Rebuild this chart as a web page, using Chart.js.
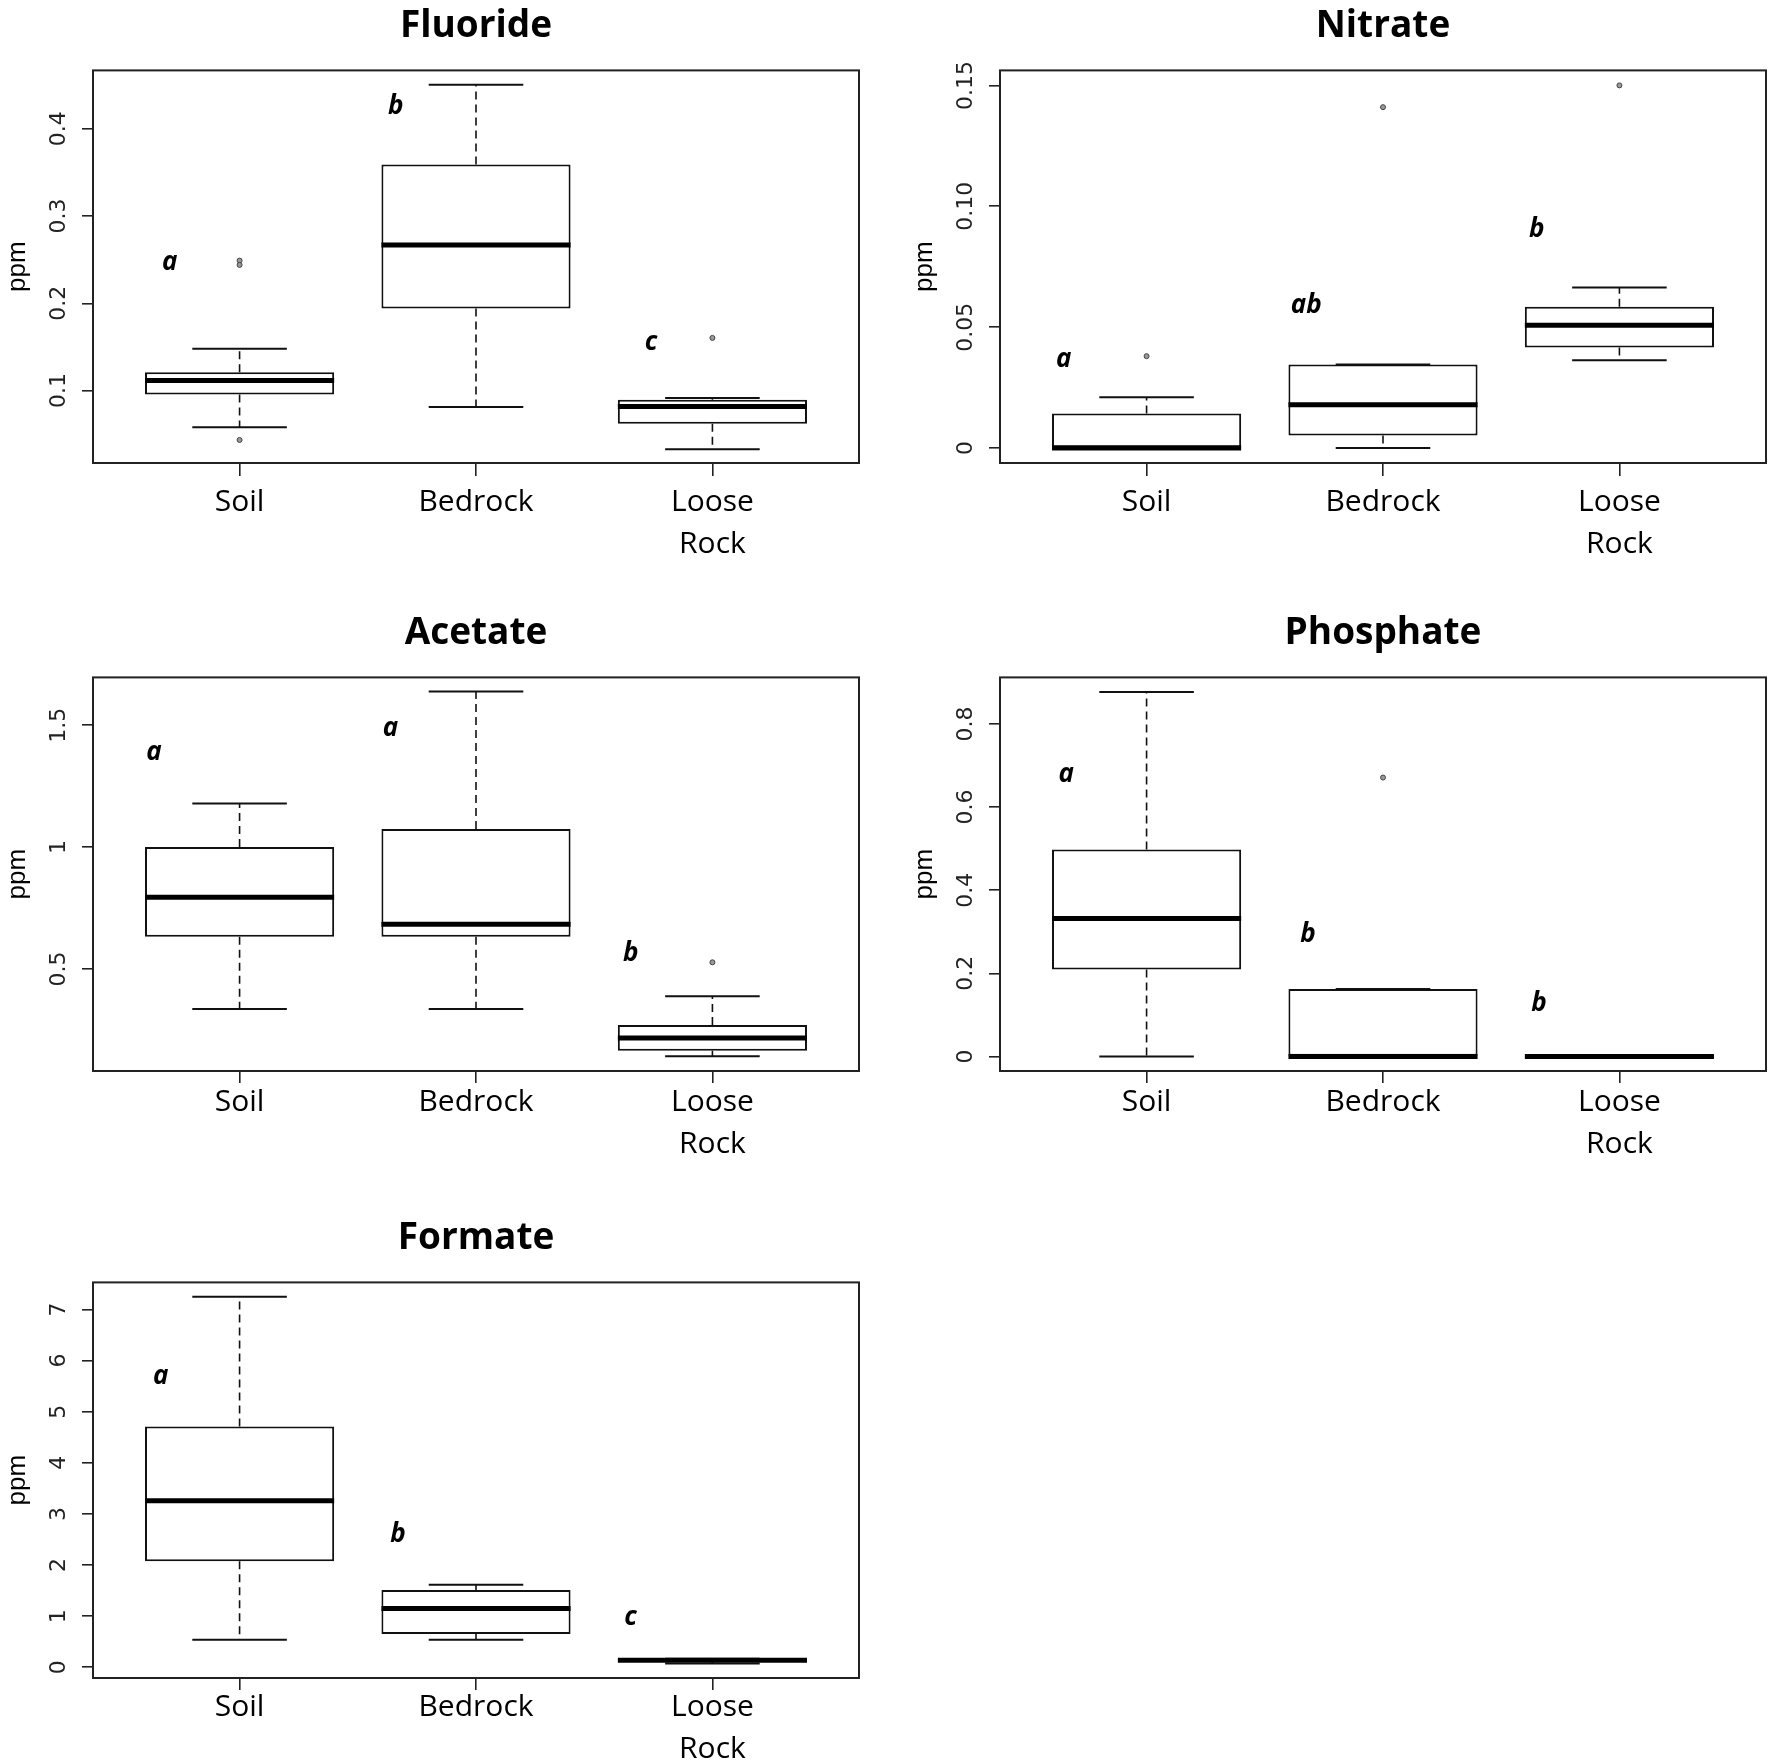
<!DOCTYPE html>
<html>
<head>
<meta charset="utf-8">
<title>Ion concentrations by substrate</title>
<script src="https://cdn.jsdelivr.net/npm/chart.js@4.4.1/dist/chart.umd.min.js"></script>
<style>
  html, body { margin: 0; padding: 0; background: #fff; }
  body { width: 1775px; height: 1763px; position: relative; overflow: hidden; }
  canvas { position: absolute; }
</style>
</head>
<body>
<canvas id="fluorideChart"></canvas>
<canvas id="nitrateChart"></canvas>
<canvas id="acetateChart"></canvas>
<canvas id="phosphateChart"></canvas>
<canvas id="formateChart"></canvas>
<script>
// --- Data ---
const categories = ['Soil', 'Bedrock', 'Loose Rock'];
const categoryLabels = ['Soil', 'Bedrock', ['Loose', 'Rock']];
const categoryPos = [1, 2, 3];

// each box: [lower whisker, Q1, median, Q3, upper whisker]
const fluorideBoxes = [[0.058, 0.0955, 0.1115, 0.121, 0.148], [0.0813, 0.194, 0.267, 0.359, 0.4506], [0.0328, 0.0621, 0.0817, 0.0894, 0.0915]];
const fluorideOutliers = [[1, 0.249], [1, 0.244], [1, 0.0434], [3, 0.1604]];
const fluorideLetters = ['a', 'b', 'c'];
const fluorideLetterPos = [[0.705, 0.247], [1.66, 0.425], [2.74, 0.155]];
const fluorideTicks = [0.1, 0.2, 0.3, 0.4];
const fluorideTickLabels = ['0.1', '0.2', '0.3', '0.4'];
const fluorideRange = [0.017, 0.467];

const nitrateBoxes = [[0, 0, 0, 0.0143, 0.021], [0, 0.0052, 0.0179, 0.0345, 0.0345], [0.0363, 0.0416, 0.0508, 0.0584, 0.0664]];
const nitrateOutliers = [[1, 0.038], [2, 0.141], [3, 0.150]];
const nitrateLetters = ['a', 'ab', 'b'];
const nitrateLetterPos = [[0.65, 0.0365], [1.675, 0.0588], [2.65, 0.0904]];
const nitrateTicks = [0, 0.05, 0.10, 0.15];
const nitrateTickLabels = ['0', '0.05', '0.10', '0.15'];
const nitrateRange = [-0.0062, 0.1562];

const acetateBoxes = [[0.335, 0.632, 0.794, 1.0, 1.179], [0.335, 0.632, 0.683, 1.074, 1.638], [0.142, 0.164, 0.216, 0.270, 0.388]];
const acetateOutliers = [[3, 0.527]];
const acetateLetters = ['a', 'a', 'b'];
const acetateLetterPos = [[0.638, 1.389], [1.638, 1.487], [2.654, 0.561]];
const acetateTicks = [0.5, 1, 1.5];
const acetateTickLabels = ['0.5', '1', '1.5'];
const acetateRange = [0.081, 1.696];

const phosphateBoxes = [[0, 0.209, 0.332, 0.498, 0.877], [0, 0, 0, 0.162, 0.162], [0, 0, 0, 0, 0]];
const phosphateOutliers = [[2, 0.671]];
const phosphateLetters = ['a', 'b', 'b'];
const phosphateLetterPos = [[0.66, 0.678], [1.683, 0.292], [2.66, 0.127]];
const phosphateTicks = [0, 0.2, 0.4, 0.6, 0.8];
const phosphateTickLabels = ['0', '0.2', '0.4', '0.6', '0.8'];
const phosphateRange = [-0.035, 0.912];

const formateBoxes = [[0.536, 2.075, 3.26, 4.71, 7.25], [0.536, 0.65, 1.15, 1.51, 1.616], [0.075, 0.11, 0.135, 0.155, 0.165]];
const formateOutliers = [];
const formateLetters = ['a', 'b', 'c'];
const formateLetterPos = [[0.666, 5.68], [1.67, 2.59], [2.654, 0.967]];
const formateTicks = [0, 1, 2, 3, 4, 5, 6, 7];
const formateTickLabels = ['0', '1', '2', '3', '4', '5', '6', '7'];
const formateRange = [-0.21, 7.53];

// --- Page layout (pixels) ---
const AXIS_W = 93, XAXIS_H = 100, TITLE_H = 70, PLOT_W = 766;

const panels = [
  { id: 'fluorideChart', title: 'Fluoride', left: 0, top: 0, plotH: 393, tickLen: 13, labelPad: 6,
    boxes: fluorideBoxes, outliers: fluorideOutliers, letters: fluorideLetters, letterPos: fluorideLetterPos,
    ticks: fluorideTicks, tickLabels: fluorideTickLabels, range: fluorideRange },
  { id: 'nitrateChart', title: 'Nitrate', left: 907, top: 0, plotH: 393, tickLen: 13, labelPad: 6,
    boxes: nitrateBoxes, outliers: nitrateOutliers, letters: nitrateLetters, letterPos: nitrateLetterPos,
    ticks: nitrateTicks, tickLabels: nitrateTickLabels, range: nitrateRange },
  { id: 'acetateChart', title: 'Acetate', left: 0, top: 607, plotH: 394, tickLen: 12, labelPad: -1,
    boxes: acetateBoxes, outliers: acetateOutliers, letters: acetateLetters, letterPos: acetateLetterPos,
    ticks: acetateTicks, tickLabels: acetateTickLabels, range: acetateRange },
  { id: 'phosphateChart', title: 'Phosphate', left: 907, top: 607, plotH: 394, tickLen: 12, labelPad: -1,
    boxes: phosphateBoxes, outliers: phosphateOutliers, letters: phosphateLetters, letterPos: phosphateLetterPos,
    ticks: phosphateTicks, tickLabels: phosphateTickLabels, range: phosphateRange },
  { id: 'formateChart', title: 'Formate', left: 0, top: 1212, plotH: 396, tickLen: 12, labelPad: -3,
    boxes: formateBoxes, outliers: formateOutliers, letters: formateLetters, letterPos: formateLetterPos,
    ticks: formateTicks, tickLabels: formateTickLabels, range: formateRange }
];

// --- R-style boxplot pieces: whiskers, caps, medians, frame, y labels, letters ---
const boxExtras = {
  id: 'boxExtras',
  afterDatasetsDraw(chart, args, opts) {
    const p = opts.panel;
    const { ctx, chartArea } = chart;
    const x = chart.scales.x, y = chart.scales.y;
    ctx.save();
    ctx.strokeStyle = '#111';

    p.boxes.forEach((b, i) => {
      const c = categoryPos[i];
      const cx = x.getPixelForValue(c);
      const capL = x.getPixelForValue(c - 0.2), capR = x.getPixelForValue(c + 0.2);
      const boxL = x.getPixelForValue(c - 0.4), boxR = x.getPixelForValue(c + 0.4);

      // dashed whiskers
      ctx.lineWidth = 1.6;
      ctx.setLineDash([8, 5]);
      ctx.beginPath();
      ctx.moveTo(cx, y.getPixelForValue(b[3])); ctx.lineTo(cx, y.getPixelForValue(b[4]));
      ctx.moveTo(cx, y.getPixelForValue(b[1])); ctx.lineTo(cx, y.getPixelForValue(b[0]));
      ctx.stroke();

      // staples
      ctx.setLineDash([]);
      ctx.lineWidth = 2;
      ctx.beginPath();
      ctx.moveTo(capL, y.getPixelForValue(b[4])); ctx.lineTo(capR, y.getPixelForValue(b[4]));
      ctx.moveTo(capL, y.getPixelForValue(b[0])); ctx.lineTo(capR, y.getPixelForValue(b[0]));
      ctx.stroke();

      // median
      ctx.lineWidth = 5;
      ctx.strokeStyle = '#000';
      ctx.beginPath();
      ctx.moveTo(boxL, y.getPixelForValue(b[2])); ctx.lineTo(boxR, y.getPixelForValue(b[2]));
      ctx.stroke();
      ctx.strokeStyle = '#111';
    });

    // plot frame
    ctx.lineWidth = 2;
    ctx.strokeStyle = '#222';
    ctx.strokeRect(chartArea.left, chartArea.top, chartArea.right - chartArea.left, chartArea.bottom - chartArea.top);

    // y tick labels, parallel to the axis
    ctx.fillStyle = '#222';
    ctx.font = '22px "DejaVu Sans", sans-serif';
    ctx.textAlign = 'center';
    ctx.textBaseline = 'middle';
    y.ticks.forEach((t, i) => {
      ctx.save();
      ctx.translate(chartArea.left - 34, y.getPixelForValue(t.value));
      ctx.rotate(-Math.PI / 2);
      ctx.fillText(p.tickLabels[i], 0, 0);
      ctx.restore();
    });

    // group letters
    ctx.fillStyle = '#000';
    ctx.font = 'italic 700 26px "Open Sans", sans-serif';
    p.letters.forEach((txt, i) => {
      ctx.fillText(txt, x.getPixelForValue(p.letterPos[i][0]), y.getPixelForValue(p.letterPos[i][1]));
    });
    ctx.restore();
  }
};

function makeChart(p) {
  const canvas = document.getElementById(p.id);
  const width = p.left === 0 ? 887 : 868;
  const height = TITLE_H + p.plotH + XAXIS_H;
  canvas.width = width;
  canvas.height = height;
  canvas.style.left = p.left + 'px';
  canvas.style.top = p.top + 'px';
  canvas.style.width = width + 'px';
  canvas.style.height = height + 'px';

  return new Chart(canvas.getContext('2d'), {
    type: 'bar',
    data: {
      datasets: [{
        type: 'bar',
        data: p.boxes.map((b, i) => ({ x: categoryPos[i], y: [b[1], b[3]] })),
        backgroundColor: '#fff',
        borderColor: '#111',
        borderWidth: 2,
        borderSkipped: false,
        categoryPercentage: 1,
        barPercentage: 0.8
      }, {
        type: 'scatter',
        data: p.outliers.map(o => ({ x: o[0], y: o[1] })),
        pointStyle: 'circle',
        pointRadius: 2.5,
        backgroundColor: '#999',
        borderColor: '#444',
        borderWidth: 1
      }]
    },
    options: {
      responsive: false,
      devicePixelRatio: 1,
      animation: false,
      events: [],
      layout: { padding: { left: 0, right: width - AXIS_W - PLOT_W, top: 0, bottom: 0 } },
      scales: {
        x: {
          type: 'linear',
          min: 0.38, max: 3.62,
          offset: false,
          afterBuildTicks: axis => { axis.ticks = categoryPos.map(v => ({ value: v })); },
          afterFit: axis => { axis.height = XAXIS_H; },
          ticks: {
            callback: v => categoryLabels[v - 1],
            font: { family: '"Open Sans"', size: 30, lineHeight: 1.38 },
            color: '#000',
            padding: p.labelPad,
            maxRotation: 0,
            autoSkip: false
          },
          grid: { offset: false, drawOnChartArea: false, drawTicks: true, tickLength: p.tickLen, color: '#222', lineWidth: 1.6 },
          border: { display: false }
        },
        y: {
          type: 'linear',
          min: p.range[0], max: p.range[1],
          afterBuildTicks: axis => { axis.ticks = p.ticks.map(v => ({ value: v })); },
          afterFit: axis => { axis.width = AXIS_W; },
          ticks: { display: false },
          grid: { drawOnChartArea: false, drawTicks: true, tickLength: 11, color: '#222', lineWidth: 1.6 },
          border: { display: false },
          title: {
            display: true,
            text: 'ppm',
            font: { family: '"Liberation Sans"', size: 26, lineHeight: 1.2 },
            color: '#000',
            padding: { top: 2, bottom: 0 }
          }
        }
      },
      plugins: {
        legend: { display: false },
        tooltip: { enabled: false },
        title: {
          display: true,
          text: p.title,
          fullSize: false,
          color: '#000',
          font: { family: '"Open Sans"', weight: 'bold', size: 37, lineHeight: 1.2 },
          padding: { top: 4, bottom: 22 }
        },
        boxExtras: { panel: p }
      }
    },
    plugins: [boxExtras]
  });
}

panels.forEach(makeChart);
</script>
</body>
</html>
